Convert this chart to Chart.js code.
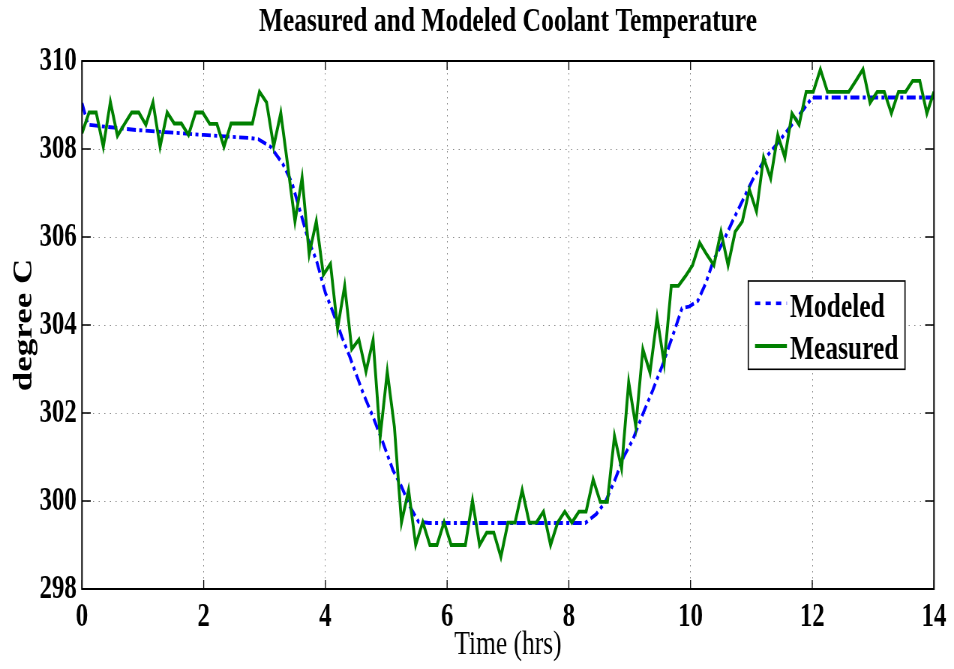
<!DOCTYPE html>
<html>
<head>
<meta charset="utf-8">
<script src="https://cdn.jsdelivr.net/npm/chart.js@4/dist/chart.umd.min.js"></script>
<style>
  html, body { margin: 0; padding: 0; background: #fff; overflow: hidden; width: 954px; height: 669px; }
  canvas { display: block; }
</style>
</head>
<body>
<canvas id="c" width="1272" height="669" style="width:954px;height:669px;"></canvas>
<script>
// ---- data ----
const chartTitle = 'Measured and Modeled Coolant Temperature';
const xTitle = 'Time (hrs)';
const yTitle = 'degree C';
const seriesNames = ['Modeled', 'Measured'];

// measured coolant temperature, one sample every 7 minutes from 0 to 14 h
const sampleMinutes = 7;
const measured = [
  308.36, 308.83, 308.83, 308.05, 309.07, 308.30, 308.57, 308.83, 308.83, 308.55,
  309.06, 308.05, 308.83, 308.58, 308.58, 308.32, 308.83, 308.83, 308.57, 308.57,
  308.05, 308.58, 308.58, 308.58, 308.58, 309.30, 309.06, 308.06, 308.82, 307.60,
  306.35, 307.35, 305.61, 306.36, 305.14, 305.39, 303.92, 304.89, 303.45, 303.67,
  302.94, 303.66, 301.46, 302.94, 301.69, 299.51, 300.25, 299.00, 299.52, 299.00,
  299.00, 299.52, 299.00, 299.00, 299.00, 300.01, 299.00, 299.28, 299.28, 298.73,
  299.51, 299.51, 300.25, 299.51, 299.51, 299.76, 299.00, 299.51, 299.76, 299.51,
  299.76, 299.76, 300.49, 299.98, 299.98, 301.48, 300.74, 302.70, 301.70, 303.45,
  302.92, 304.17, 303.13, 304.89, 304.89, 305.11, 305.36, 305.87, 305.60, 305.36,
  306.12, 305.36, 306.12, 306.35, 307.08, 306.58, 307.81, 307.33, 308.32, 307.81,
  308.81, 308.55, 309.30, 309.30, 309.81, 309.30, 309.30, 309.30, 309.30, 309.55,
  309.81, 309.05, 309.30, 309.30, 308.81, 309.30, 309.30, 309.55, 309.55, 308.81,
  309.30
];

// modeled curve, read as (hours, degree C) points
const modeledHours = [
  0, 0.1, 0.9, 2.0, 2.76, 2.9, 3.1, 3.3, 3.45, 3.58, 3.72, 3.85, 4.0, 4.13, 4.27,
  4.4, 4.62, 4.78, 4.95, 5.11, 5.25, 5.39, 5.53, 5.7, 8.27, 8.45, 8.6, 8.75, 8.9,
  9.05, 9.22, 9.38, 9.55, 9.7, 9.86, 9.98, 10.12, 10.25, 10.38, 10.55, 10.7, 10.86,
  11.02, 11.25, 11.47, 11.68, 11.85, 12.0, 14.0
];
const modeledTemp = [
  309.04, 308.55, 308.43, 308.32, 308.25, 308.22, 308.05, 307.66, 307.23, 306.61,
  305.93, 305.48, 304.73, 304.27, 303.73, 303.28, 302.45, 301.92, 301.31, 300.70,
  300.33, 299.87, 299.53, 299.50, 299.50, 299.70, 299.98, 300.45, 301.00, 301.39,
  301.99, 302.52, 303.13, 303.73, 304.38, 304.42, 304.55, 304.95, 305.48, 305.93,
  306.39, 306.84, 307.30, 307.83, 308.20, 308.58, 308.89, 309.17, 309.17
];

const xMin = 0, xMax = 14, xStep = 2;
const yMin = 298, yMax = 310, yStep = 2;

// ---- build datasets ----
const measuredPts = measured.map((v, i) => ({ x: i * sampleMinutes / 60, y: v }));
const modeledPts = modeledHours.map((h, i) => ({ x: h, y: modeledTemp[i] }));

const SERIF = '"Liberation Serif", "Times New Roman", serif';
const BLUE = '#0000ff';
const GREEN = '#008000';

const frameTicks = {
  id: 'frameTicks',
  afterDatasetsDraw(chart) {
    const { ctx, chartArea: a, scales } = chart;
    ctx.save();
    ctx.strokeStyle = '#000';
    ctx.lineWidth = 1.3;
    ctx.setLineDash([]);
    const L = 9;
    ctx.beginPath();
    scales.x.ticks.forEach(t => {
      const px = scales.x.getPixelForValue(t.value);
      ctx.moveTo(px, a.bottom); ctx.lineTo(px, a.bottom - L);
      ctx.moveTo(px, a.top); ctx.lineTo(px, a.top + L);
    });
    scales.y.ticks.forEach(t => {
      const py = scales.y.getPixelForValue(t.value);
      ctx.moveTo(a.left, py); ctx.lineTo(a.left + L * 1.3, py);
      ctx.moveTo(a.right, py); ctx.lineTo(a.right - L * 1.3, py);
    });
    ctx.stroke();
    ctx.lineWidth = 2;
    ctx.strokeRect(a.left, a.top, a.right - a.left, a.bottom - a.top);
    ctx.restore();
  }
};

const boxLegend = {
  id: 'boxLegend',
  afterDraw(chart) {
    const { ctx, chartArea: a } = chart;
    const right = a.right - 38.6;
    const left = right - 209;
    const top = 281, bottom = 369.3;
    ctx.save();
    ctx.fillStyle = '#fff';
    ctx.fillRect(left, top, right - left, bottom - top);
    ctx.strokeStyle = '#000';
    ctx.lineWidth = 1.6;
    ctx.strokeRect(left, top, right - left, bottom - top);
    const sx0 = left + 9, sx1 = left + 51.5;
    // Modeled
    ctx.strokeStyle = BLUE; ctx.lineWidth = 3.6; ctx.setLineDash([7, 7]);
    ctx.beginPath(); ctx.moveTo(sx0, 303.3); ctx.lineTo(sx1, 303.3); ctx.stroke();
    // Measured
    ctx.strokeStyle = GREEN; ctx.lineWidth = 3.8; ctx.setLineDash([]);
    ctx.beginPath(); ctx.moveTo(sx0, 346); ctx.lineTo(sx1, 346); ctx.stroke();
    ctx.fillStyle = '#000';
    ctx.font = 'bold 34px ' + SERIF;
    ctx.textAlign = 'left'; ctx.textBaseline = 'alphabetic';
    ctx.fillText(seriesNames[0], sx1 + 4, 317);
    ctx.fillText(seriesNames[1], sx1 + 4, 358.5);
    ctx.restore();
  }
};

new Chart(document.getElementById('c'), {
  type: 'line',
  data: {
    datasets: [
      {
        label: seriesNames[0], data: modeledPts, borderColor: BLUE, backgroundColor: BLUE,
        borderWidth: 3.8, borderDash: [12, 4.5, 4, 4.5], pointRadius: 0, tension: 0, order: 2
      },
      {
        label: seriesNames[1], data: measuredPts, borderColor: GREEN, backgroundColor: GREEN,
        borderWidth: 3.8, pointRadius: 0, tension: 0, order: 1
      }
    ]
  },
  options: {
    responsive: false,
    animation: false,
    devicePixelRatio: 1,
    layout: { padding: { left: 0, right: 26.7, top: 0, bottom: 0 } },
    plugins: {
      legend: { display: false },
      tooltip: { enabled: false },
      title: {
        display: true, text: chartTitle, color: '#000', fullSize: false,
        font: { family: SERIF, size: 34, weight: 'bold', lineHeight: 1.2 },
        padding: { top: 2, bottom: 18.2 }
      }
    },
    scales: {
      x: {
        type: 'linear', min: xMin, max: xMax,
        ticks: { stepSize: xStep, color: '#000', padding: 9, maxRotation: 0,
                 font: { family: SERIF, size: 33, weight: 'bold', lineHeight: 1.2 } },
        grid: { color: '#888', lineWidth: 1, drawTicks: false },
        border: { display: false, dash: [1.5, 4.5] },
        title: { display: true, text: xTitle, color: '#000', padding: { top: 0, bottom: 4 },
                 font: { family: SERIF, size: 34, weight: 'normal', lineHeight: 1.2 } },
        afterFit(s) { s.height = 80; }
      },
      y: {
        type: 'linear', min: yMin, max: yMax,
        ticks: { stepSize: yStep, color: '#000', padding: 7,
                 font: { family: SERIF, size: 33, weight: 'bold', lineHeight: 1.2 } },
        grid: { color: '#888', lineWidth: 1, drawTicks: false },
        border: { display: false, dash: [1.5, 6] },
        title: { display: true, text: yTitle, color: '#000', padding: { top: 12, bottom: 0 },
                 font: { family: SERIF, size: 35, weight: 'bold', lineHeight: 1.2 } },
        afterFit(s) { s.width = 109.3; }
      }
    }
  },
  plugins: [frameTicks, boxLegend]
});
</script>
</body>
</html>
